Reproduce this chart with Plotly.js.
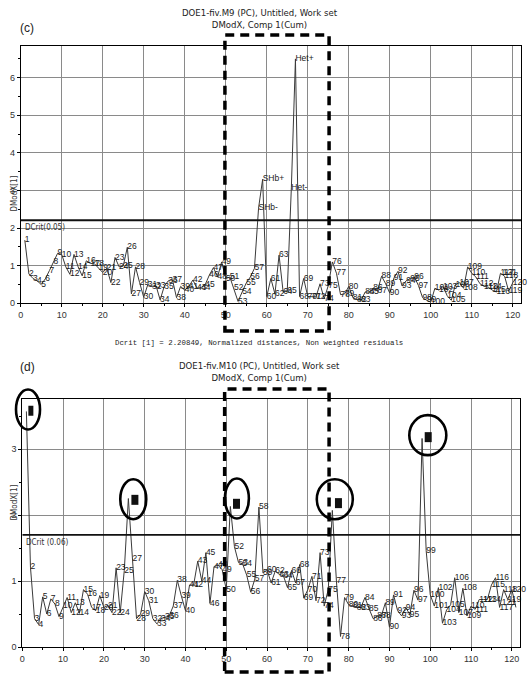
<!DOCTYPE html>
<html><head><meta charset="utf-8">
<script src="https://cdn.plot.ly/plotly-3.0.1.min.js"></script>
<style>html,body{margin:0;padding:0;background:#fff}#chart{width:528px;height:681px}</style>
</head><body><div id="chart"></div>
<script>
// ---------- DATA ----------
// Panel (c): DOE1-fiv.M9, DModX per observation 1..121
const valuesC = [1.68,0.78,0.66,0.60,0.50,0.65,0.87,1.10,1.33,1.30,
0.97,0.77,1.30,0.97,0.73,1.13,1.06,1.05,0.93,0.82,
0.93,0.55,1.22,0.97,0.99,1.49,0.25,0.97,0.55,0.16,
0.50,0.45,0.47,0.09,0.45,0.60,0.63,0.15,0.45,0.35,
0.45,0.62,0.40,0.42,0.50,0.75,0.95,0.70,1.10,0.66,
0.70,0.40,0.05,0.30,0.54,0.70,0.93,2.53,3.30,0.18,
0.66,0.25,1.28,0.30,0.32,3.07,6.50,0.18,0.66,0.18,
0.18,0.17,0.52,0.12,0.47,1.10,0.80,0.23,0.25,0.45,
0.15,0.10,0.08,0.30,0.30,0.40,0.33,0.72,0.52,0.27,
0.67,0.85,0.46,0.60,0.66,0.70,0.47,0.15,0.08,0.03,
0.40,0.35,0.45,0.20,0.08,0.50,0.55,0.40,0.97,0.80,
0.70,0.52,0.45,0.43,0.35,0.30,0.80,0.72,0.32,0.55,0.70];
const specialLabelsC = {58:'SHb-', 59:'SHb+', 66:'Het-', 67:'Het+'};
const dcritC = 2.20849;
const dcritLabelC = 'DCrit(0.05)';

// Panel (d): DOE1-fiv.M10, DModX per observation 1..121
const valuesD = [3.57,1.21,0.43,0.34,0.76,0.50,0.73,0.65,0.46,0.62,
0.75,0.52,0.67,0.51,0.87,0.80,0.60,0.55,0.78,0.60,
0.63,0.52,1.20,0.52,1.16,2.25,1.34,0.43,0.50,0.84,
0.70,0.43,0.35,0.43,0.45,0.47,0.62,1.01,0.77,0.55,
0.94,0.94,1.30,1.00,1.43,0.66,1.22,1.24,1.17,0.87,
2.13,1.52,1.28,1.26,1.09,0.83,1.03,2.12,1.12,1.17,
0.97,1.15,1.10,1.08,0.90,1.16,0.97,1.25,0.74,0.87,
1.07,0.70,1.43,0.62,0.87,2.07,1.00,0.16,0.75,0.64,
0.62,0.60,0.60,0.75,0.58,0.43,0.47,0.47,0.67,0.30,
0.79,0.55,0.47,0.60,0.49,0.86,0.71,3.16,1.46,0.79,
0.62,0.90,0.36,0.56,0.64,1.05,0.52,0.89,0.47,0.62,
0.57,0.72,0.72,0.72,0.94,1.05,0.60,0.87,0.72,0.87,0.60];
const circledD = [1, 26, 51, 76, 98];
const dcritD = 1.70;
const dcritLabelD = 'DCrit (0.06)';

const titleC = 'DOE1-fiv.M9 (PC), Untitled, Work set<br>DModX, Comp 1(Cum)';
const titleD = 'DOE1-fiv.M10 (PC), Untitled, Work set<br>DModX, Comp 1(Cum)';
const footC = 'Dcrit [1] = 2.20849, Normalized distances, Non weighted residuals';
const boxRange = [49.8, 75.2];

// ---------- STYLE / LAYOUT ----------
const W = 528, H = 681;
const fx = p => p / W, fy = p => 1 - p / H;
const FONT = 'Liberation Sans, Arial, sans-serif';
const NARROW = 'Liberation Sans Narrow, DejaVu Sans Condensed, Liberation Sans, sans-serif';

// axis geometry (pixels)
const geoD = {x0: 22.3, x1: 520, y0: 647, y1: 399, xr: [0, 122], yr: [0, 3.758]};
const geoC = {x0: 20.7, x1: 521, y0: 303.3, y1: 46, xr: [0, 122], yr: [0, 6.843]};
// data -> paper for panel (d) (so annotation shapes are not clipped by the plot area)
const pxD = x => geoD.x0 + (x - geoD.xr[0]) / (geoD.xr[1] - geoD.xr[0]) * (geoD.x1 - geoD.x0);
const pyD = y => geoD.y0 - (y - geoD.yr[0]) / (geoD.yr[1] - geoD.yr[0]) * (geoD.y0 - geoD.y1);

const obs = valuesC.map((_, i) => i + 1);
const textC = obs.map(i => specialLabelsC[i] || String(i));
const textD = obs.map(i => circledD.includes(i) ? '' : String(i));
// keep the last label inside the picture
const textPos = obs.map(i => i === obs.length ? 'top left' : 'middle right');

const lineStyle = {color: '#3a3a3a', width: 1};
const labelFont = {family: FONT, size: 8.5, color: '#1a1a1a'};

const traces = [
  {x: obs, y: valuesC, xaxis: 'x', yaxis: 'y', mode: 'lines+text', text: textC,
   textposition: textPos, textfont: labelFont, line: lineStyle, hoverinfo: 'x+y', cliponaxis: false},
  {x: obs, y: valuesD, xaxis: 'x2', yaxis: 'y2', mode: 'lines+text', text: textD,
   textposition: textPos, textfont: labelFont, line: lineStyle, hoverinfo: 'x+y', cliponaxis: false}
];

function xax(geo) {
  return {domain: [fx(geo.x0), fx(geo.x1)], range: geo.xr, dtick: 10, tick0: 0, showgrid: true, gridcolor: '#8a8a8a', gridwidth: 1,
    zeroline: false, showline: true, linecolor: '#000', linewidth: 1, mirror: true,
    ticks: 'outside', ticklen: 3, tickcolor: '#000',
    minor: {dtick: 5, ticks: 'outside', ticklen: 2, tickcolor: '#000', showgrid: false},
    tickfont: {family: FONT, size: 9, color: '#333'}, fixedrange: true};
}
function yax(geo) {
  return {domain: [fy(geo.y0), fy(geo.y1)], range: geo.yr, dtick: 1, tick0: 0, showgrid: true, gridcolor: '#8a8a8a', gridwidth: 1,
    zeroline: false, showline: true, linecolor: '#000', linewidth: 1, mirror: true,
    ticks: 'outside', ticklen: 3, tickcolor: '#000',
    minor: {dtick: 0.5, ticks: 'outside', ticklen: 2, tickcolor: '#000', showgrid: false},
    tickfont: {family: FONT, size: 9, color: '#333'}, fixedrange: true};
}

const shapes = [];
// DCrit lines
shapes.push({type: 'line', xref: 'x', yref: 'y', x0: 0, x1: 122, y0: dcritC, y1: dcritC, line: {color: '#111', width: 1.8}});
shapes.push({type: 'line', xref: 'x2', yref: 'y2', x0: 0, x1: 122, y0: dcritD, y1: dcritD, line: {color: '#111', width: 1.8}});
// dashed highlight boxes
shapes.push({type: 'rect', xref: 'x', yref: 'paper', x0: boxRange[0], x1: boxRange[1], y0: fy(331), y1: fy(35),
  line: {color: '#000', width: 3.5, dash: '9px,6px'}, fillcolor: 'rgba(0,0,0,0)'});
shapes.push({type: 'rect', xref: 'x2', yref: 'paper', x0: boxRange[0] - 0.2, x1: boxRange[1], y0: fy(672), y1: fy(389),
  line: {color: '#000', width: 3.5, dash: '9px,6px'}, fillcolor: 'rgba(0,0,0,0)'});
// circles + squares around outliers in (d)
const circDx = [0.4, 1.2, 1.6, 0.6, 1.4], circDy = [0.03, -0.01, 0.12, 0.17, 0.05];
const circW = [24, 26, 24, 36, 37], circH = 40;      // pixels
const sqDx = [1.1, 1.6, 1.5, 1.5, 1.5], sqDy = [0.01, -0.02, 0.04, 0.11, 0.02];
const sqW = [5, 7, 7, 7, 7], sqH = 10;                // pixels
circledD.forEach((p, k) => {
  const v = valuesD[p - 1];
  const cx = pxD(p + circDx[k]), cy = pyD(v + circDy[k]);
  shapes.push({type: 'circle', xref: 'paper', yref: 'paper', x0: fx(cx - circW[k] / 2), x1: fx(cx + circW[k] / 2),
    y0: fy(cy + circH / 2), y1: fy(cy - circH / 2), line: {color: '#000', width: 2.6}});
  const sx = pxD(p + sqDx[k]), sy = pyD(v + sqDy[k]);
  shapes.push({type: 'rect', xref: 'paper', yref: 'paper', x0: fx(sx - sqW[k] / 2), x1: fx(sx + sqW[k] / 2),
    y0: fy(sy + sqH / 2), y1: fy(sy - sqH / 2), line: {width: 0}, fillcolor: '#111'});
});

const annotations = [
  {text: '(c)', xref: 'paper', yref: 'paper', x: fx(18), y: fy(19), showarrow: false, font: {family: FONT, size: 12, color: '#222'}},
  {text: '(d)', xref: 'paper', yref: 'paper', x: fx(18), y: fy(367), showarrow: false, font: {family: FONT, size: 12, color: '#222'}},
  {text: titleD, xref: 'paper', yref: 'paper', x: fx(259.5), y: fy(371), showarrow: false, align: 'center',
   font: {family: NARROW, size: 9.5, color: '#222'}},
  {text: footC, xref: 'paper', yref: 'paper', x: fx(258.5), y: fy(343), showarrow: false,
   font: {family: 'Liberation Mono, Courier New, monospace', size: 7.4, color: '#222'}},
  {text: 'DModX[1]', xref: 'paper', yref: 'paper', x: fx(7), y: fy(174), textangle: -90, showarrow: false,
   font: {family: NARROW, size: 8, color: '#333'}},
  {text: 'DModX[1]', xref: 'paper', yref: 'paper', x: fx(7), y: fy(523), textangle: -90, showarrow: false,
   font: {family: NARROW, size: 8, color: '#333'}},
  {text: dcritLabelC, xref: 'x', yref: 'y', x: 0.5, y: dcritC, xanchor: 'left', yanchor: 'top', yshift: -1, showarrow: false,
   font: {family: NARROW, size: 8, color: '#333'}},
  {text: dcritLabelD, xref: 'x2', yref: 'y2', x: 0.5, y: dcritD, xanchor: 'left', yanchor: 'top', yshift: -1, showarrow: false,
   font: {family: NARROW, size: 8, color: '#333'}}
];

const layout = {
  width: W, height: H, margin: {l: 0, r: 0, t: 0, b: 0}, paper_bgcolor: '#fff', plot_bgcolor: '#fff',
  showlegend: false,
  title: {text: titleC, x: fx(259.5), xanchor: 'center', yref: 'container', y: 1 - 16 / H, yanchor: 'middle',
    font: {family: NARROW, size: 9.5, color: '#222'}},
  xaxis: Object.assign(xax(geoC), {anchor: 'y'}),
  yaxis: Object.assign(yax(geoC), {anchor: 'x'}),
  xaxis2: Object.assign(xax(geoD), {anchor: 'y2'}),
  yaxis2: Object.assign(yax(geoD), {anchor: 'x2'}),
  shapes: shapes,
  annotations: annotations
};

Plotly.newPlot('chart', traces, layout, {staticPlot: true, displayModeBar: false});
</script></body></html>
